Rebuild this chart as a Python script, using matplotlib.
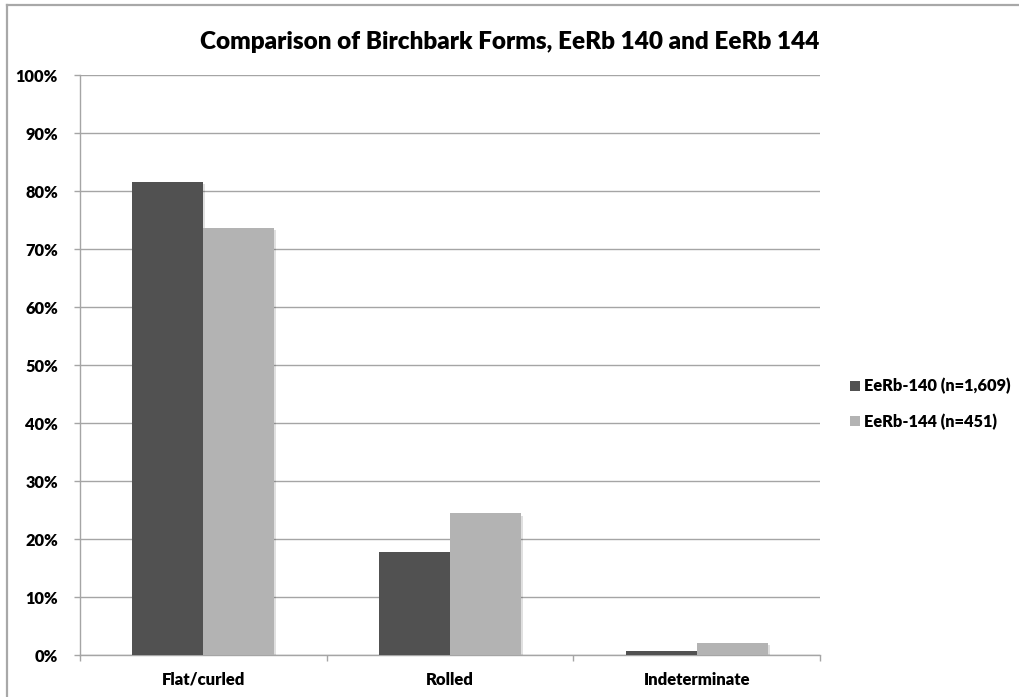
import matplotlib
matplotlib.use("Agg")
import matplotlib.pyplot as plt
import matplotlib.patheffects as pe
from matplotlib.lines import Line2D
from matplotlib.patches import Patch
import numpy as np

plt.rcParams['font.family'] = ['Lato', 'DejaVu Sans']

categories = ["Flat/curled", "Rolled", "Indeterminate"]
series_names = ["EeRb-140 (n=1,609)", "EeRb-144 (n=451)"]
eerb140 = [81.6, 17.8, 0.7]
eerb144 = [73.7, 24.4, 2.0]
y_ticks = [0, 10, 20, 30, 40, 50, 60, 70, 80, 90, 100]
y_tick_labels = [f"{v}%" for v in y_ticks]

dark = "#515151"
light = "#b3b3b3"
grid_gray = "#a5a5a5"
weight = "heavy"

W, H = 1019, 697
fig = plt.figure(figsize=(W / 100, H / 100), dpi=100)
ax = fig.add_axes([80 / W, 1 - 655 / H, (820 - 80) / W, (655 - 75) / H])

x = np.arange(len(categories))
bw = 0.288
shadow = [pe.SimplePatchShadow(offset=(1.5, -1.5), shadow_rgbFace="#000000", alpha=0.12), pe.Normal()]
b1 = ax.bar(x - bw / 2, eerb140, bw, color=dark, zorder=3)
b2 = ax.bar(x + bw / 2, eerb144, bw, color=light, zorder=3)
for r in list(b1) + list(b2):
    r.set_path_effects(shadow)

ax.set_xlim(-0.5, len(categories) - 0.5)
ax.set_ylim(0, 100)
ax.set_yticks(y_ticks)
ax.set_yticklabels(y_tick_labels, fontsize=11.8, fontweight=weight)
ax.yaxis.grid(True, color=grid_gray, linewidth=1.0, zorder=0)
ax.set_axisbelow(True)

ax.set_xticks(x)
ax.set_xticklabels(categories, fontsize=12, fontweight=weight)
ax.tick_params(axis="x", which="major", length=0, pad=12)
ax.set_xticks(np.arange(len(categories) + 1) - 0.5, minor=True)
ax.tick_params(axis="x", which="minor", length=4, color=grid_gray, width=1.0, direction="out")
ax.tick_params(axis="y", length=4, color=grid_gray, width=1.0, direction="out", pad=12)

for s in ["top", "right"]:
    ax.spines[s].set_visible(False)
for s in ["left", "bottom"]:
    ax.spines[s].set_color(grid_gray)
    ax.spines[s].set_linewidth(1.0)

fig.text(0.5, 1 - 42 / H, "Comparison of Birchbark Forms, EeRb 140 and EeRb 144",
         ha="center", va="center", fontsize=17.5, fontweight=weight)

handles = [Patch(facecolor=dark), Patch(facecolor=light)]
fig.legend(handles, series_names, loc="center left", bbox_to_anchor=(835 / W, 1 - 404 / H),
           frameon=False, handlelength=0.6, handleheight=0.6,
           handletextpad=0.3, labelspacing=1.15, prop={"weight": weight, "size": 11.8})

# chart area border (top and left edges)
fig.add_artist(Line2D([7 / W, 1], [1 - 5 / H, 1 - 5 / H], color="#a8a8a8", linewidth=1.6,
                      transform=fig.transFigure))
fig.add_artist(Line2D([7 / W, 7 / W], [0, 1 - 5 / H], color="#a8a8a8", linewidth=1.6,
                      transform=fig.transFigure))

fig.savefig("out.png", dpi=100)
